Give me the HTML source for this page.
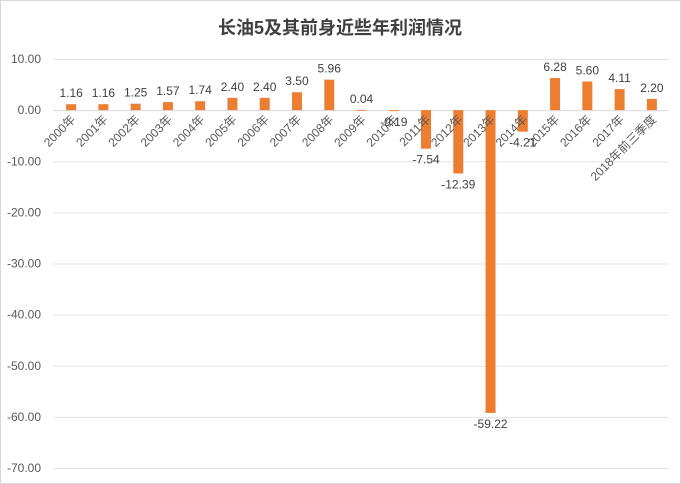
<!DOCTYPE html>
<html><head><meta charset="utf-8"><style>
body{margin:0;background:#fff}
svg{display:block;font-family:"Liberation Sans","Noto Sans CJK SC",sans-serif}
</style></head><body>
<svg id="c" width="681" height="484">
<rect x="0.5" y="0.5" width="680" height="483" fill="#fff" stroke="#d9d9d9"/>
<text x="340" y="34" text-anchor="middle" font-size="18" font-weight="bold" fill="#404040">长油5及其前身近些年利润情况</text>
<g id="grid"></g><g id="bars"></g><g id="labels"></g>
</svg>
<script>
const categories=["2000年","2001年","2002年","2003年","2004年","2005年","2006年","2007年","2008年","2009年","2010年","2011年","2012年","2013年","2014年","2015年","2016年","2017年","2018年前三季度"];
const values=[1.16,1.16,1.25,1.57,1.74,2.40,2.40,3.50,5.96,0.04,-0.19,-7.54,-12.39,-59.22,-4.21,6.28,5.60,4.11,2.20];
const yTicks=[10,0,-10,-20,-30,-40,-50,-60,-70];
const NS="http://www.w3.org/2000/svg";
const x0=55,x1=668,yTop=59,yBot=468,vMax=10,vMin=-70;
const y=v=>yTop+(vMax-v)/(vMax-vMin)*(yBot-yTop);
const step=(x1-x0)/categories.length;
const cx=i=>x0+step*(i+0.5);
function mk(tag,attrs,parent,txt){const e=document.createElementNS(NS,tag);for(const k in attrs)e.setAttribute(k,attrs[k]);if(txt!==undefined)e.textContent=txt;document.getElementById(parent).appendChild(e);return e;}
yTicks.forEach(t=>{
 const l=mk("line",{x1:x0-2,x2:x1,y1:y(t)+0.5,y2:y(t)+0.5,stroke:t===0?"#d9d9d9":"#e3e3e3","stroke-width":1},"grid");
 
 
 const tx=mk("text",{x:41,y:y(t)+4,"text-anchor":"end","font-size":12,fill:"#595959"},"grid",t.toFixed(2));
 
 
});
values.forEach((v,i)=>{
 const top=Math.min(y(v),y(0)),h=Math.max(Math.abs(y(v)-y(0)),0.8);
 const r=mk("rect",{x:cx(i)-5,y:top,width:10,height:h,fill:"#ed7d31"},"bars");
 
 
 const vy=v>=0?y(v)-7:y(v)+15;
 const t=mk("text",{x:cx(i),y:vy,"text-anchor":"middle","font-size":12,fill:"#404040"},"labels",v.toFixed(2));
 
 
 const ax=cx(i)+5,ay=y(0)+10;
 const c=mk("text",{x:ax,y:ay,"text-anchor":"end","font-size":12,fill:"#595959",transform:`rotate(-45 ${ax} ${ay})`},"labels",categories[i]);
 
 
});
</script>
</body></html>
